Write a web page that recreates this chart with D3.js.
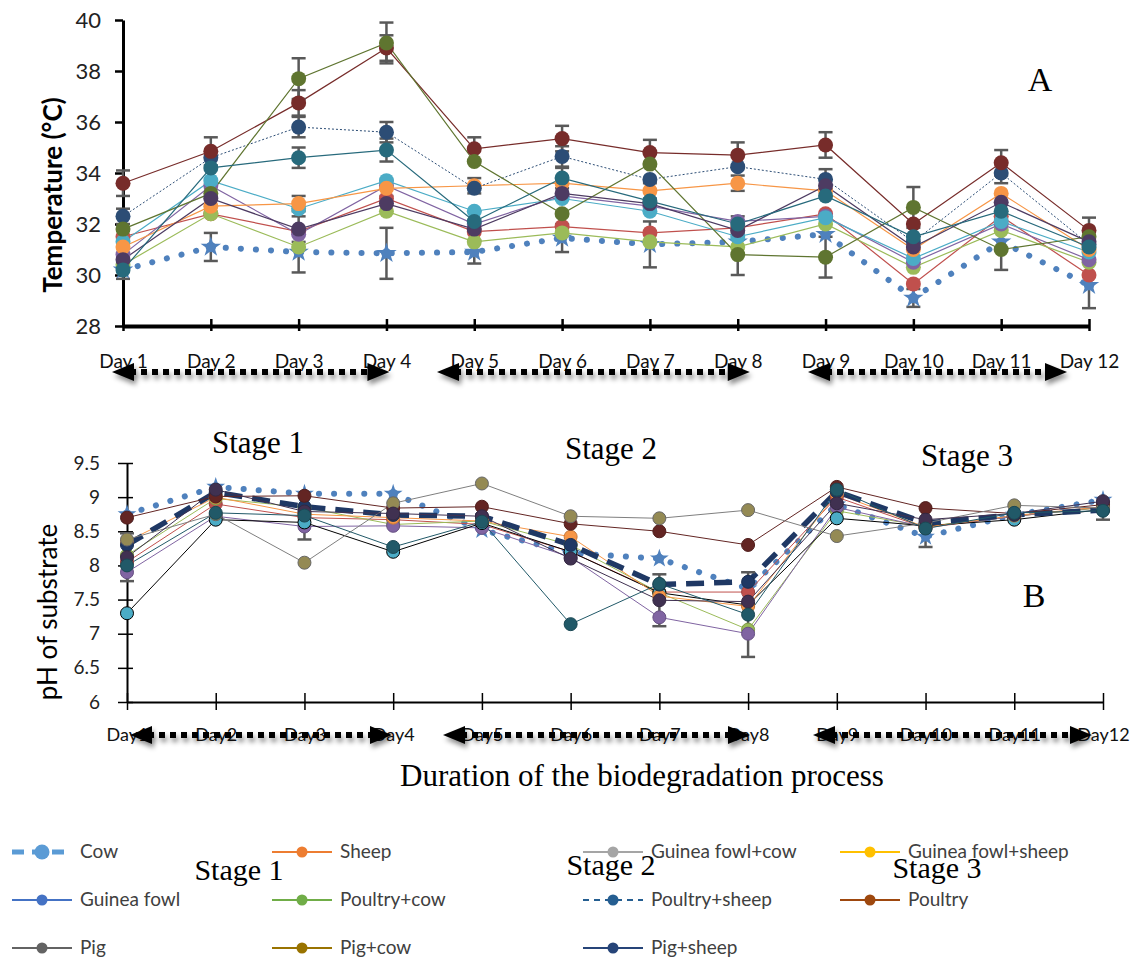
<!DOCTYPE html>
<html>
<head>
<meta charset="utf-8">
<script src="https://cdn.jsdelivr.net/npm/d3@7/dist/d3.min.js"></script>
<style>
  body { margin: 0; background: #fff; }
  svg { display: block; }
</style>
</head>
<body>
<svg id="chart" width="1140" height="961"></svg>
<script>
// tick labels
const dayLabelsA = ['Day 1','Day 2','Day 3','Day 4','Day 5','Day 6','Day 7','Day 8','Day 9','Day 10','Day 11','Day 12']
const dayLabelsB = ['Day1','Day2','Day3','Day4','Day5','Day6','Day7','Day8','Day9','Day10','Day11','Day12']
const tempTicks = [28, 30, 32, 34, 36, 38, 40]
const phTicks = [6, 6.5, 7, 7.5, 8, 8.5, 9, 9.5]

const seriesNames = ['Cow','Sheep','Guinea fowl+cow','Guinea fowl+sheep','Guinea fowl','Poultry+cow','Poultry+sheep','Poultry','Pig','Pig+cow','Pig+sheep']

// A - temperature (°C)
const tCow          = [30.2, 31.1, 30.9, 30.85, 30.9, 31.45, 31.2, 31.3, 31.6, 29.1, 31.3, 29.6]
const tSheep        = [31.5, 32.4, 31.7, 33.0, 31.7, 31.9, 31.65, 31.85, 32.4, 29.65, 32.3, 30.0]
const tGfCow        = [30.4, 32.4, 31.1, 32.5, 31.3, 31.65, 31.3, 31.1, 32.0, 30.3, 31.75, 30.5]
const tGfSheep      = [30.8, 33.5, 31.6, 33.5, 32.0, 33.1, 32.7, 32.1, 32.3, 30.5, 32.0, 30.6]
const tGf           = [31.3, 33.7, 32.6, 33.7, 32.5, 33.0, 32.5, 31.5, 32.25, 30.65, 32.1, 30.9]
const tPoultryCow   = [31.1, 32.7, 32.8, 33.4, 33.5, 33.6, 33.3, 33.6, 33.3, 31.0, 33.2, 31.0]
const tPoultrySheep = [32.3, 34.6, 35.8, 35.6, 33.4, 34.65, 33.75, 34.25, 33.75, 31.3, 34.0, 31.2]
const tPoultry      = [33.6, 34.85, 36.75, 38.9, 34.95, 35.35, 34.8, 34.7, 35.1, 32.0, 34.4, 31.75]
const tPig          = [31.8, 33.2, 37.7, 39.1, 34.45, 32.4, 34.35, 30.8, 30.7, 32.65, 31.0, 31.5]
const tPigCow       = [30.6, 33.0, 31.8, 32.8, 31.8, 33.2, 32.8, 31.75, 33.5, 31.1, 32.85, 31.3]
const tPigSheep     = [30.2, 34.2, 34.6, 34.9, 32.1, 33.8, 32.9, 32.0, 33.1, 31.5, 32.5, 31.1]

// A - error bars (null = none shown)
const eTCow          = [0.35, 0.55, 0.8, 1.0, 0.45, 0.55, 0.9, null, null, 0.35, null, 0.9]
const eTPoultry      = [0.5, 0.55, 0.5, 0.5, 0.45, 0.5, 0.5, 0.5, 0.5, null, 0.5, 0.5]
const eTPig          = [null, null, 0.8, 0.8, null, null, null, 0.8, 0.8, 0.8, 0.8, null]
const eTPoultrySheep = [0.3, null, 0.4, 0.4, null, 0.4, null, null, 0.4, null, 0.4, null]
const eTPigSheep     = [null, null, 0.4, 0.45, 0.4, 0.4, null, 0.3, null, null, null, null]
const eTPoultryCow   = [null, 0.3, 0.3, 0.3, 0.3, null, 0.3, 0.3, null, null, null, null]
const eTPigCow       = [null, null, 0.5, null, null, null, null, null, null, null, null, null]

// B - pH of substrate
const pCow          = [8.75, 9.15, 9.05, 9.05, 8.52, 8.18, 8.1, 7.66, 8.89, 8.42, 8.74, 8.96]
const pSheep        = [8.05, 8.9, 8.7, 8.67, 8.6, 8.2, 7.61, 7.61, 9.0, 8.55, 8.72, 8.85]
const pGfCow        = [8.15, 8.98, 8.85, 8.6, 8.65, 8.3, 7.6, 7.06, 8.8, 8.57, 8.72, 8.85]
const pGfSheep      = [7.9, 8.72, 8.57, 8.58, 8.55, 8.12, 7.24, 7.0, 8.85, 8.56, 8.72, 8.86]
const pGf           = [7.3, 8.67, 8.63, 8.2, 8.62, 8.2, 7.6, 7.42, 8.69, 8.58, 8.67, 8.82]
const pPoultryCow   = [8.35, 9.0, 8.75, 8.7, 8.65, 8.42, 7.55, 7.4, 9.05, 8.56, 8.73, 8.86]
const pPoultrySheep = [8.3, 9.07, 8.86, 8.74, 8.72, 8.3, 7.72, 7.76, 9.08, 8.62, 8.74, 8.81]
const pPoultry      = [8.7, 9.01, 9.02, 8.84, 8.86, 8.61, 8.5, 8.3, 9.15, 8.84, 8.76, 8.89]
const pPig          = [8.38, 8.75, 8.04, 8.91, 9.2, 8.72, 8.69, 8.81, 8.43, 8.62, 8.88, 8.84]
const pPigCow       = [8.12, 9.11, 8.79, 8.76, 8.72, 8.1, 7.49, 7.47, 8.91, 8.67, 8.76, 8.94]
const pPigSheep     = [8.0, 8.77, 8.73, 8.27, 8.64, 7.14, 7.73, 7.28, 9.11, 8.54, 8.77, 8.8]

const ePCow      = [null, null, null, null, null, null, null, null, null, 0.15, null, null]
const ePGfSheep  = [null, null, 0.19, null, null, null, null, null, null, null, null, null]
const ePPigCow   = [0.35, null, null, null, null, null, 0.38, null, null, null, null, null]
const ePPigSheep = [null, null, null, null, null, null, null, 0.62, null, null, null, 0.13]

const tempColors = ['#4F81BD','#C0504D','#9BBB59','#8064A2','#4BACC6','#F79646','#2C4D75','#772C2A','#5F7530','#4D3B62','#276A7C']
const phColors   = ['#4F81BD','#C0504D','#9BBB59','#8064A2','#4BACC6','#F79646','#1F3864','#632523','#948A54','#403151','#215968']
const phLineColors = ['#4F81BD','#C0504D','#9BBB59','#8064A2','#000000','#F79646','#1F3864','#632523','#7F7F7F','#403151','#215968']
const legendColors = ['#5B9BD5','#ED7D31','#A5A5A5','#FFC000','#4472C4','#70AD47','#255E91','#9E480E','#636363','#997300','#264478']

const tempSeries = [tCow, tSheep, tGfCow, tGfSheep, tGf, tPoultryCow, tPoultrySheep, tPoultry, tPig, tPigCow, tPigSheep]
const tempErrors = [eTCow, null, null, null, null, eTPoultryCow, eTPoultrySheep, eTPoultry, eTPig, eTPigCow, eTPigSheep]
const phSeries = [pCow, pSheep, pGfCow, pGfSheep, pGf, pPoultryCow, pPoultrySheep, pPoultry, pPig, pPigCow, pPigSheep]
const phErrors = [ePCow, null, null, ePGfSheep, null, null, null, null, null, ePPigCow, ePPigSheep]

const sans = 'Lato, "Open Sans", sans-serif'
const serif = '"Liberation Serif", "Times New Roman", serif'

const svg = d3.select('#chart')

// shadow for the stage arrows
const defs = svg.append('defs')
defs.append('filter').attr('id', 'shadow')
  .attr('x', '-10%').attr('y', '-100%').attr('width', '120%').attr('height', '300%')
  .append('feDropShadow')
  .attr('dx', 2).attr('dy', 4).attr('stdDeviation', 2.5)
  .attr('flood-color', '#000').attr('flood-opacity', 0.45)

function drawArrow(g, x1, x2, y) {
  const a = g.append('g').attr('filter', 'url(#shadow)')
  a.append('line')
    .attr('x1', x1 + 18).attr('x2', x2 - 18).attr('y1', y).attr('y2', y)
    .attr('stroke', '#000').attr('stroke-width', 6).attr('stroke-dasharray', '6,5')
  a.append('path').attr('d', `M${x1},${y}L${x1 + 22},${y - 9}L${x1 + 22},${y + 9}Z`).attr('fill', '#000')
  a.append('path').attr('d', `M${x2},${y}L${x2 - 22},${y - 9}L${x2 - 22},${y + 9}Z`).attr('fill', '#000')
}

function starMarker(sel, x, y, size) {
  sel.append('path')
    .attr('transform', `translate(${x},${y})`)
    .attr('d', d3.symbol(d3.symbolStar, size)())
    .attr('fill', '#4F81BD')
  sel.append('circle').attr('cx', x).attr('cy', y).attr('r', Math.sqrt(size) / 2.2).attr('fill', '#4F81BD')
}

// ---------------- Panel A : temperature ----------------
const xA = d3.scalePoint().domain(d3.range(12)).range([123, 1089])
const yA = d3.scaleLinear().domain([28, 40]).range([326, 20])
const gA = svg.append('g')

gA.append('g')
  .attr('transform', `translate(${xA(0)},0)`)
  .call(d3.axisLeft(yA).tickValues(tempTicks).tickSizeInner(8).tickSizeOuter(0).tickPadding(14))
  .call(g => g.select('.domain').attr('stroke-width', 3))
  .call(g => g.selectAll('.tick line').attr('stroke-width', 2.5))
  .call(g => g.selectAll('.tick text').attr('font-family', sans).attr('font-size', 22).attr('fill', '#222').attr('dy', '0.36em'))

gA.append('g')
  .attr('transform', `translate(0,${yA(28)})`)
  .call(d3.axisBottom(xA).tickFormat(i => dayLabelsA[i]).tickSizeOuter(0))
  .call(g => g.select('.domain').attr('stroke-width', 4))
  .call(g => g.selectAll('.tick line').attr('y1', -7).attr('y2', 5).attr('stroke-width', 2.5))
  .call(g => g.selectAll('.tick text').attr('y', 42).attr('dy', null)
    .attr('font-family', sans).attr('font-size', 19).attr('fill', '#111'))

gA.append('text')
  .attr('transform', `translate(62,${(yA(28) + yA(40)) / 2 + 22}) rotate(-90)`)
  .attr('text-anchor', 'middle')
  .attr('font-family', sans).attr('font-weight', 'bold').attr('font-size', 26)
  .text('Temperature (°C)')

gA.append('text').attr('x', 1040).attr('y', 91).attr('text-anchor', 'middle')
  .attr('font-family', serif).attr('font-size', 34).text('A')

const lineA = d3.line().x((d, i) => xA(i)).y(d => yA(d))

tempSeries.forEach((vals, s) => {
  const p = gA.append('path').attr('d', lineA(vals)).attr('fill', 'none')
    .attr('stroke', tempColors[s])
  if (s === 0) {
    p.attr('stroke-width', 6).attr('stroke-linecap', 'round').attr('stroke-dasharray', '0.1,15')
  } else if (s === 6) {
    p.attr('stroke-width', 1).attr('stroke-dasharray', '2,2')
  } else {
    p.attr('stroke-width', 1.2)
  }
})

function errorBars(g, vals, errs, x, y, w) {
  if (!errs) return
  vals.forEach((v, i) => {
    if (errs[i] == null) return
    const eg = g.append('g').attr('stroke', '#595959').attr('stroke-width', w)
    const cx = x(i), y1 = y(v + errs[i]), y2 = y(v - errs[i])
    eg.append('line').attr('x1', cx).attr('x2', cx).attr('y1', y1).attr('y2', y2)
    eg.append('line').attr('x1', cx - 7).attr('x2', cx + 7).attr('y1', y1).attr('y2', y1)
    eg.append('line').attr('x1', cx - 7).attr('x2', cx + 7).attr('y1', y2).attr('y2', y2)
  })
}

tempSeries.forEach((vals, s) => errorBars(gA, vals, tempErrors[s], xA, yA, 2.5))

tempSeries.forEach((vals, s) => {
  const mg = gA.append('g')
  vals.forEach((v, i) => {
    if (s === 0) starMarker(mg, xA(i), yA(v), 130)
    else mg.append('circle').attr('cx', xA(i)).attr('cy', yA(v)).attr('r', 7.5).attr('fill', tempColors[s])
  })
})

drawArrow(gA, xA(0) - 11, xA(3) + 3, 372)
drawArrow(gA, 437, xA(7) + 12, 372)
drawArrow(gA, 808, 1067, 372)

// ---------------- Panel B : pH ----------------
const xB = d3.scalePoint().domain(d3.range(12)).range([127, 1103])
const yB = d3.scaleLinear().domain([6, 9.5]).range([702, 463])
const gB = svg.append('g')

gB.append('g')
  .attr('transform', `translate(${xB(0)},0)`)
  .call(d3.axisLeft(yB).tickValues(phTicks).tickSizeOuter(0).tickSizeInner(9).tickPadding(18)
    .tickFormat(d => d % 1 ? d.toFixed(1) : d))
  .call(g => g.select('.domain').attr('stroke-width', 2))
  .call(g => g.selectAll('.tick line').attr('x2', 6).attr('x1', -9).attr('stroke-width', 1.5))
  .call(g => g.selectAll('.tick text').attr('x', -27).attr('font-family', sans).attr('font-size', 19).attr('fill', '#222'))

gB.append('g')
  .attr('transform', `translate(0,${yB(6)})`)
  .call(d3.axisBottom(xB).tickFormat(i => dayLabelsB[i]).tickSizeOuter(0))
  .call(g => g.select('.domain').attr('stroke-width', 2))
  .call(g => g.selectAll('.tick line').attr('y1', -9).attr('y2', 8).attr('stroke-width', 1.5))
  .call(g => g.selectAll('.tick text').attr('y', 39).attr('dy', null)
    .attr('font-family', sans).attr('font-size', 18).attr('fill', '#111'))

gB.append('text')
  .attr('transform', `translate(57,612) rotate(-90)`)
  .attr('text-anchor', 'middle')
  .attr('font-family', sans).attr('font-size', 26)
  .text('pH of substrate')

gB.append('text').attr('x', 1034).attr('y', 607).attr('text-anchor', 'middle')
  .attr('font-family', serif).attr('font-size', 34).text('B')

const lineB = d3.line().x((d, i) => xB(i)).y(d => yB(d))

phSeries.forEach((vals, s) => {
  const p = gB.append('path').attr('d', lineB(vals)).attr('fill', 'none')
    .attr('stroke', phLineColors[s])
  if (s === 0) {
    p.attr('stroke-width', 6).attr('stroke-linecap', 'round').attr('stroke-dasharray', '0.1,15')
  } else if (s === 6) {
    p.attr('stroke-width', 5.5).attr('stroke-dasharray', '18,10')
  } else {
    p.attr('stroke-width', 1)
  }
})

phSeries.forEach((vals, s) => errorBars(gB, vals, phErrors[s], xB, yB, 2.5))

phSeries.forEach((vals, s) => {
  const mg = gB.append('g')
  vals.forEach((v, i) => {
    if (s === 0) starMarker(mg, xB(i), yB(v), 110)
    else mg.append('circle').attr('cx', xB(i)).attr('cy', yB(v)).attr('r', 6.5)
      .attr('fill', phColors[s]).attr('stroke', d3.color(phLineColors[s]).darker(0.6)).attr('stroke-width', 1)
  })
})

drawArrow(gB, 130, 392, 735)
drawArrow(gB, 443, 750, 735)
drawArrow(gB, 813, 1092, 735)

// stage and axis captions
const captions = svg.append('g').attr('font-family', serif).attr('text-anchor', 'middle').attr('fill', '#000')
captions.append('text').attr('x', 258).attr('y', 453).attr('font-size', 31).text('Stage 1')
captions.append('text').attr('x', 611).attr('y', 459).attr('font-size', 31).text('Stage 2')
captions.append('text').attr('x', 967).attr('y', 466).attr('font-size', 31).text('Stage 3')
captions.append('text').attr('x', 642).attr('y', 786).attr('font-size', 31).text('Duration of the biodegradation process')

// ---------------- Legend ----------------
const legendCols = [12, 272, 583, 840]
const legendRows = [852, 900, 948]
const legend = svg.append('g')
seriesNames.forEach((name, i) => {
  const x0 = legendCols[i % 4], y0 = legendRows[Math.floor(i / 4)]
  const item = legend.append('g')
  const ln = item.append('line').attr('x1', x0).attr('x2', x0 + 60).attr('y1', y0).attr('y2', y0)
    .attr('stroke', legendColors[i])
  if (i === 0) ln.attr('stroke-width', 5).attr('stroke-dasharray', '12,8')
  else if (i === 6) ln.attr('stroke-width', 2).attr('stroke-dasharray', '6,5')
  else ln.attr('stroke-width', 2)
  item.append('circle').attr('cx', x0 + 30).attr('cy', y0).attr('r', i === 0 ? 7.5 : 5.5).attr('fill', legendColors[i])
  item.append('text').attr('x', x0 + 68).attr('y', y0 + 6)
    .attr('font-family', sans).attr('font-size', 19).attr('fill', '#404040').text(name)
})

const legendCaptions = svg.append('g').attr('font-family', serif).attr('font-size', 30).attr('text-anchor', 'middle')
legendCaptions.append('text').attr('x', 239).attr('y', 880).text('Stage 1')
legendCaptions.append('text').attr('x', 611).attr('y', 875).text('Stage 2')
legendCaptions.append('text').attr('x', 937).attr('y', 878).text('Stage 3')
</script>
</body>
</html>
